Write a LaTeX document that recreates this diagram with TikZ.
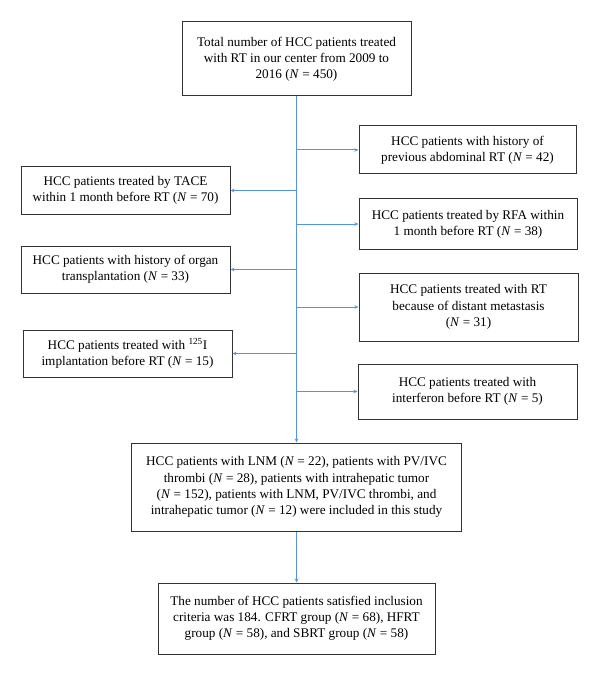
\documentclass[tikz,border=0pt]{standalone}
\usepackage{fontspec}
\setmainfont{Liberation Serif}
\usetikzlibrary{arrows.meta}
\definecolor{arrblue}{RGB}{86,148,220}
\begin{document}
\begin{tikzpicture}[x=1pt,y=-1pt,
  box/.style={draw=black!80,line width=1pt,align=center,inner sep=2pt,
    font=\fontsize{13.2pt}{16.2pt}\selectfont},
  arr/.style={draw=arrblue,line width=1pt,-{Stealth[length=4pt,width=3.5pt]}}]
\useasboundingbox[fill=white] (0,0) rectangle (600,676);
\node[box,minimum width=229pt,minimum height=74pt] (top) at (296.5,59)
  {Total number of HCC patients treated\\with RT in our center from 2009 to\\2016 (\textit{N} = 450)};
\node[box,minimum width=217pt,minimum height=48pt] (b1) at (467.5,150)
  {HCC patients with history of\\previous abdominal RT (\textit{N} = 42)};
\node[box,minimum width=209pt,minimum height=47pt] (tace) at (125.5,190.5)
  {HCC patients treated by TACE\\within 1 month before RT (\textit{N} = 70)};
\node[box,minimum width=218pt,minimum height=50pt] (rfa) at (468,224)
  {HCC patients treated by RFA within\\1 month before RT (\textit{N} = 38)};
\node[box,minimum width=209pt,minimum height=47pt] (organ) at (125.5,269.5)
  {HCC patients with history of organ\\transplantation (\textit{N} = 33)};
\node[box,minimum width=219pt,minimum height=68pt] (dist) at (468.5,307)
  {HCC patients treated with RT\\because of distant metastasis\\(\textit{N} = 31)};
\node[box,minimum width=209pt,minimum height=47pt] (iod) at (127.5,353.5)
  {HCC patients treated with \textsuperscript{125}I\\implantation before RT (\textit{N} = 15)};
\node[box,minimum width=219pt,minimum height=55pt] (inter) at (467.5,391.5)
  {HCC patients treated with\\interferon before RT (\textit{N} = 5)};
\node[box,minimum width=330pt,minimum height=88pt] (lnm) at (296.5,487)
  {HCC patients with LNM (\textit{N} = 22), patients with PV/IVC\\thrombi (\textit{N} = 28), patients with intrahepatic tumor\\(\textit{N} = 152), patients with LNM, PV/IVC thrombi, and\\intrahepatic tumor (\textit{N} = 12) were included in this study};
\node[box,minimum width=277pt,minimum height=71pt] (final) at (296.5,618.5)
  {The number of HCC patients satisfied inclusion\\criteria was 184. CFRT group (\textit{N} = 68), HFRT\\group (\textit{N} = 58), and SBRT group (\textit{N} = 58)};
\coordinate (t0) at (lnm.north -| top.south);
\draw[arr] (top.south) -- (t0);
\foreach \b in {b1,tace,rfa,organ,dist,iod,inter}{
  \draw[arr] (top.south |- \b.center) -- (\b);
}
\draw[arr] (lnm.south) -- (final.north);
\end{tikzpicture}
\end{document}
